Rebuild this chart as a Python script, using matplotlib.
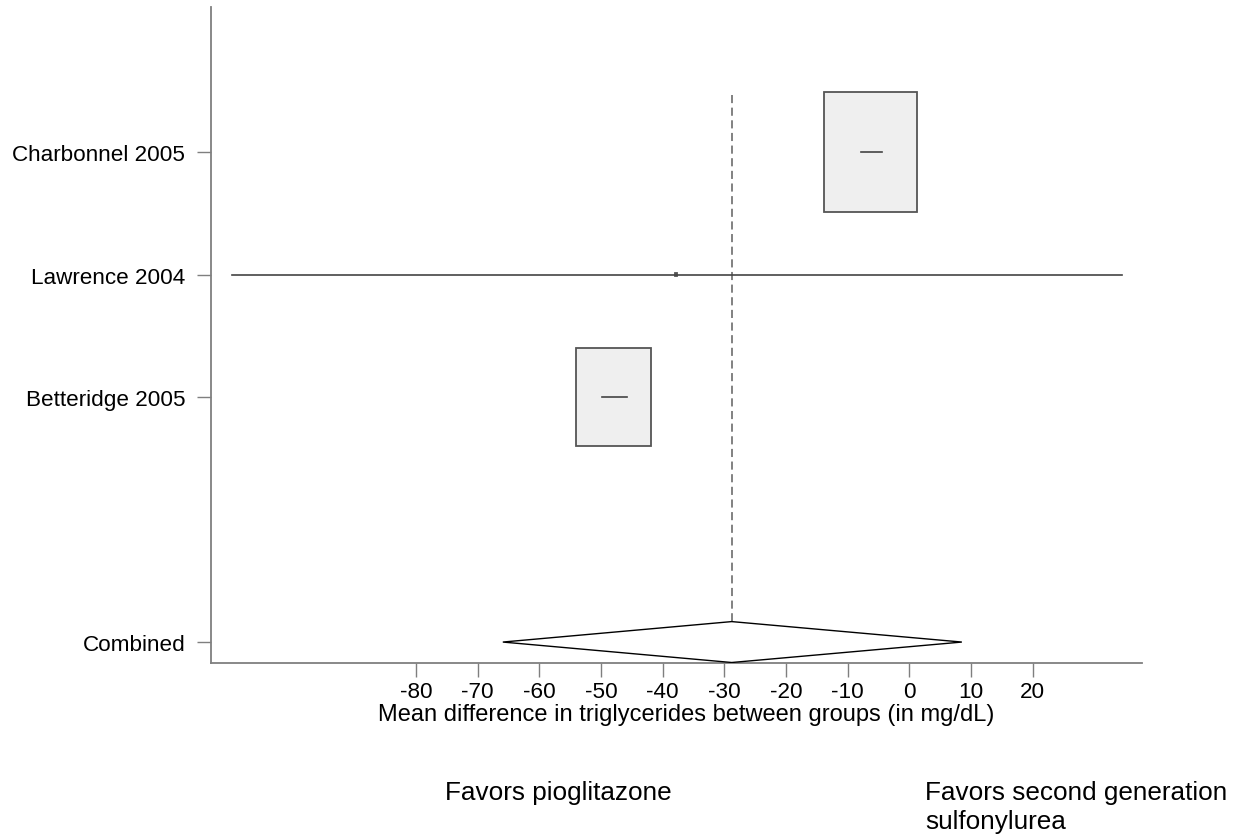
import matplotlib
matplotlib.use("Agg")
import matplotlib.pyplot as plt
from matplotlib.patches import Rectangle, Polygon

plt.rcParams['font.family'] = ['Liberation Sans', 'DejaVu Sans']

# ---- data ----
studies = ["Charbonnel 2005", "Lawrence 2004", "Betteridge 2005"]
estimates = [-6.3, -37.8, -48.0]
ci_low = [-7.8, -109.8, -49.9]
ci_high = [-4.5, 34.5, -45.8]
weights = [1.0, 0.02, 0.816]   # relative box size

combined_label = "Combined"
combined_est = -28.8
combined_low = -65.9
combined_high = 8.5

xticks = [-80, -70, -60, -50, -40, -30, -20, -10, 0, 10, 20]
xlabel = "Mean difference in triglycerides between groups (in mg/dL)"
left_note = "Favors pioglitazone"
right_note = "Favors second generation\nsulfonylurea"

# ---- layout / style ----
FS = 16.2
FS_LABEL = 17.0
FS_NOTE = 18.8
AX_COL = "#7f7f7f"
fig = plt.figure(figsize=(12.44, 8.37), dpi=100)
ax = fig.add_axes([211/1244, 1-664/837, (1142-211)/1244, (664-8)/837])

rows = [0, 1, 2]
comb_row = 4
box_hw = 7.5    # half-width in x units at weight 1
box_hh = 0.49   # half-height in rows at weight 1

for r, e, lo, hi, w in zip(rows, estimates, ci_low, ci_high, weights):
    ax.add_patch(Rectangle((e - w*box_hw, r - w*box_hh), 2*w*box_hw, 2*w*box_hh,
                           facecolor="#efefef", edgecolor="#555555", lw=1.3, zorder=2))
    ax.plot([lo, hi], [r, r], color="#444444", lw=1.2, zorder=3)

dh = 0.167
ax.add_patch(Polygon([[combined_low, comb_row], [combined_est, comb_row - dh],
                      [combined_high, comb_row], [combined_est, comb_row + dh]],
                     closed=True, facecolor="white", edgecolor="black", lw=1.0, zorder=3))
ax.plot([combined_est, combined_est], [-0.465, comb_row - dh], color="#777777",
        lw=1.3, dashes=(4.5, 2.5), zorder=1)

ax.set_xlim(-113.2, 37.7)
ax.set_ylim(4.171, -1.184)

ax.set_xticks(xticks)
ax.set_xticklabels([str(t) for t in xticks], fontsize=FS)
ax.set_yticks(rows + [comb_row])
ax.set_yticklabels(studies + [combined_label], fontsize=FS)
ax.tick_params(axis='x', length=10, width=1.0, color=AX_COL, pad=3)
ax.tick_params(axis='y', length=10, width=1.0, color=AX_COL, pad=8.4)
ax.set_xlabel(xlabel, fontsize=FS_LABEL, labelpad=1.0)
ax.xaxis.label.set_x((686 - 211) / 931)

for s in ['top', 'right']:
    ax.spines[s].set_visible(False)
for s in ['left', 'bottom']:
    ax.spines[s].set_color(AX_COL)
    ax.spines[s].set_linewidth(1.3)

fig.text(445/1244, 1-800/837, left_note, fontsize=FS_NOTE, ha='left', va='baseline')
fig.text(925/1244, 1-829/837, right_note, fontsize=FS_NOTE, ha='left', va='baseline',
         linespacing=1.27)

fig.savefig("out.png", dpi=100)
